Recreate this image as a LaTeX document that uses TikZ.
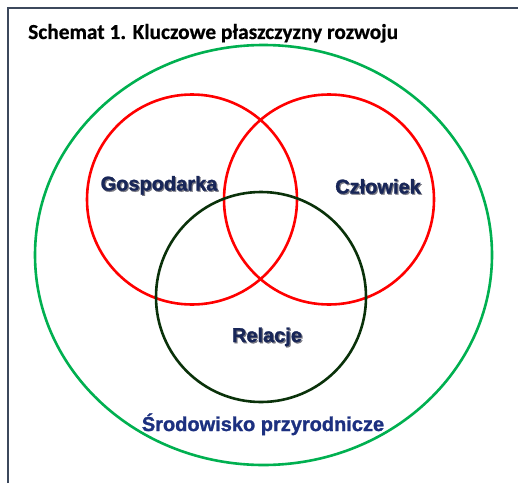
\documentclass[tikz,border=0pt]{standalone}
\usepackage{fontspec}
\setmainfont{Liberation Sans}
\newfontfamily\labfont{Liberation Sans Bold}[FakeBold=1.3]
\newfontfamily\titlefont{Carlito Bold}[FakeBold=0.6]
\definecolor{frameC}{RGB}{60,72,92}
\definecolor{ringG}{RGB}{0,176,80}
\definecolor{ringR}{RGB}{255,0,0}
\definecolor{ringD}{RGB}{10,50,10}
\definecolor{labC}{RGB}{24,38,88}
\definecolor{labB}{RGB}{28,48,128}
\definecolor{shadC}{RGB}{120,120,130}
\begin{document}
\begin{tikzpicture}[x=1pt,y=1pt,
  ring/.style={line width=2.6pt},
  lab/.style={font=\labfont\fontsize{20}{24}\selectfont, text=labC, inner sep=0pt, anchor=base},
  labshadow/.style={lab, text=shadC}]
\useasboundingbox (0,0) rectangle (518,483);
\fill[white] (0,0) rectangle (518,483);
\draw[frameC, line width=1.3pt] (8,0) -- (8,475) -- (518,475);
\node[font=\titlefont\fontsize{21.4}{25}\selectfont, anchor=base west, inner sep=0pt] (title) at (28,444) {Schemat 1. Kluczowe płaszczyzny rozwoju};
\draw[ring, ringG] (263.5,228) ellipse [x radius=228.5, y radius=210];
\draw[ring, ringR] (192,283.5) circle [radius=105];
\draw[ring, ringR] (329,283.5) circle [radius=105];
\draw[ring, ringD] (261,186) circle [radius=105];
\node[labshadow] (gosS) at (160.2,291.3) {Gospodarka};
\node[lab] (gos) at (159,292.5) {Gospodarka};
\node[labshadow] (czlS) at (379.2,288.3) {Człowiek};
\node[lab] (czl) at (378,289.5) {Człowiek};
\node[labshadow] (relS) at (268.2,139.8) {Relacje};
\node[lab] (rel) at (267,141) {Relacje};
\node[lab, text=labB] (srod) at (263,52) {Środowisko przyrodnicze};
\end{tikzpicture}
\end{document}
